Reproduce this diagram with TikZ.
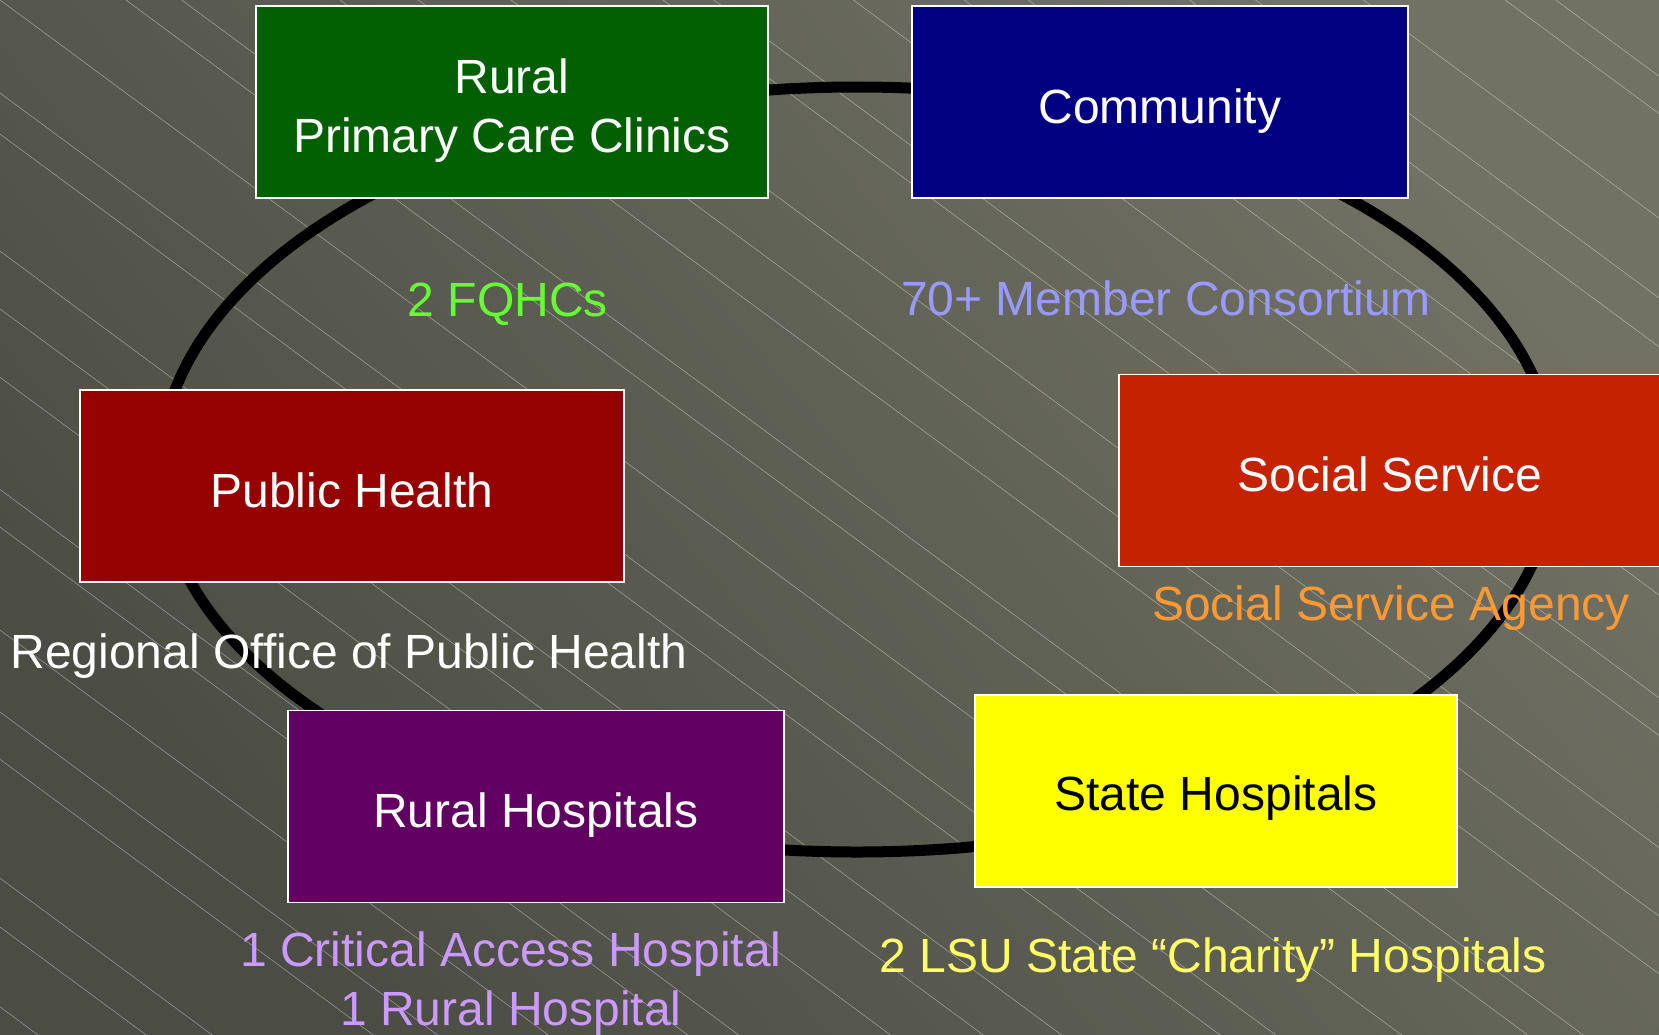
\documentclass[tikz,border=0pt]{standalone}
\usepackage{fontspec}
\setmainfont{Liberation Sans}
\usepackage{tikz}
\definecolor{bgDark}{HTML}{4B4C43}
\definecolor{bgLight}{HTML}{717264}
\definecolor{clinicGreen}{HTML}{026002}
\definecolor{communityBlue}{HTML}{000080}
\definecolor{healthRed}{HTML}{950000}
\definecolor{serviceRed}{HTML}{C42200}
\definecolor{hospitalPurple}{HTML}{600060}
\definecolor{stateYellow}{HTML}{FFFF00}
\definecolor{fqhcGreen}{HTML}{66FF33}
\definecolor{consortiumBlue}{HTML}{9999FF}
\definecolor{agencyOrange}{HTML}{FF9933}
\definecolor{criticalLilac}{HTML}{CC99FF}
\definecolor{charityYellow}{HTML}{FFFF66}
\newcommand{\lowered}[2]{\raisebox{-#1}[\height][\depth]{#2}}

\begin{document}
\begin{tikzpicture} [
    x=0.5pt, y=-0.5pt,
    groupBox/.style={rectangle, draw=white, line width=0.8pt, inner sep=0pt, align=center, text=white, font=\fontsize{24}{29.5}\selectfont},
    noteText/.style={inner sep=0pt, align=center, font=\fontsize{24}{29.5}\selectfont},
    ring/.style={line width=5.5pt, color=black}
]

\clip (0,0) rectangle (1659,1034);
\shade[shading=axis, bottom color=bgDark, top color=bgLight, shading angle=-50] (0,0) rectangle (1659,1034);

% background hatching
\foreach \i in {-17,...,14} {
    \pgfmathsetmacro{\hatchY}{78*\i + 22*sin(\i*137)}
    \draw[white, opacity=0.4, line width=0.3pt] (0,\hatchY) -- (1659,\hatchY+1225);
}

\draw[ring] (857,469.5) ellipse [x radius=348.5pt, y radius=191.25pt];

\node[groupBox, fill=clinicGreen, minimum width=256pt, minimum height=96pt] (rural_clinics) at (512,102) {\lowered{4.5pt}{\begin{tabular}{@{}c@{}}Rural\\Primary Care Clinics\end{tabular}}};

\node[groupBox, fill=communityBlue, minimum width=248pt, minimum height=96pt] (community) at (1160,102) {\lowered{4.5pt}{Community}};

\node[groupBox, fill=healthRed, minimum width=272pt, minimum height=96pt] (public_health) at (352,486) {\lowered{2pt}{Public Health}};

\node[groupBox, fill=serviceRed, minimum width=271pt, minimum height=96pt] (social_service) at (1390,470.5) {\lowered{2pt}{Social Service}};

\node[groupBox, fill=hospitalPurple, minimum width=248pt, minimum height=96pt] (rural_hospitals) at (536,806.5) {\lowered{4.5pt}{Rural Hospitals}};

\node[groupBox, fill=stateYellow, text=black, minimum width=241pt, minimum height=96pt] (state_hospitals) at (1216,791) {\lowered{3.5pt}{State Hospitals}};

\node[noteText, text=fqhcGreen] (fqhc) at (508,304) {2 FQHCs};

\node[noteText, text=consortiumBlue] (consortium) at (1166,298) {70+ Member Consortium};

\node[noteText, text=agencyOrange] (agency) at (1391,608) {Social Service Agency};

\node[noteText, text=white] (regional_office) at (349,656) {Regional Office of Public Health};

\node[noteText, text=criticalLilac] (critical_access) at (511,984) {1 Critical Access Hospital\\1 Rural Hospital};

\node[noteText, text=charityYellow] (charity) at (1213,960) {2 LSU State “Charity” Hospitals};

\end{tikzpicture}
\end{document}
